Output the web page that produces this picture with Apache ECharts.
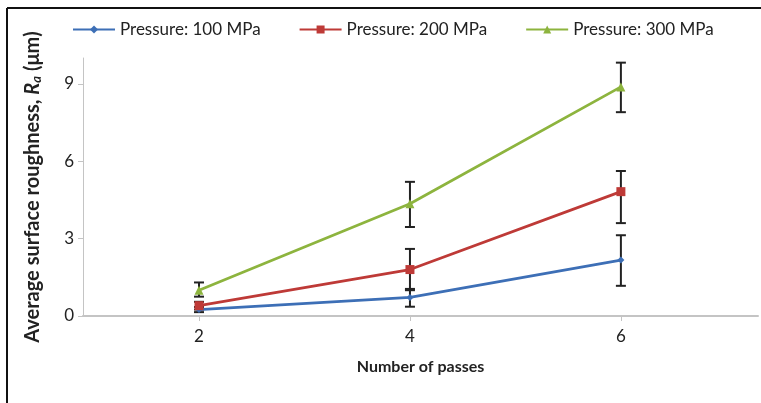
<!DOCTYPE html>
<html><head><meta charset="utf-8">
<script src="https://cdn.jsdelivr.net/npm/echarts@6/dist/echarts.min.js"></script>
<style>html,body{margin:0;padding:0;background:#fff;overflow:hidden}#c{width:761px;height:403px}</style>
</head><body><div id="c"></div>
<script>
const passes = [2, 4, 6];
const xTicks = [2, 4, 6];
const yTicks = [0, 3, 6, 9];
const names = ['Pressure: 100 MPa', 'Pressure: 200 MPa', 'Pressure: 300 MPa'];
const p100 = [0.25, 0.72, 2.17];
const p100Lo = [0.15, 0.36, 1.17];
const p100Hi = [0.35, 1.05, 3.13];
const p200 = [0.40, 1.80, 4.82];
const p200Lo = [0.25, 1.00, 3.60];
const p200Hi = [0.55, 2.60, 5.62];
const p300 = [1.00, 4.35, 8.88];
const p300Lo = [0.75, 3.45, 7.90];
const p300Hi = [1.30, 5.20, 9.82];

const colors = ['#3d6fb6', '#be3a37', '#8db43e'];
const symbols = ['diamond', 'rect', 'triangle'];
const symSizes = [7, 9, 9];
const vals = [p100, p200, p300];
const los = [p100Lo, p200Lo, p300Lo];
const his = [p100Hi, p200Hi, p300Hi];
const font = 'Lato, "Open Sans", sans-serif';

const chart = echarts.init(document.getElementById('c'));
const series = [];
vals.forEach((v, k) => {
  series.push({
    name: names[k], type: 'line', z: 3,
    data: passes.map((x, i) => [x, v[i]]),
    symbol: symbols[k], symbolSize: symSizes[k],
    lineStyle: { color: colors[k], width: 2.8 },
    itemStyle: { color: colors[k] }
  });
  series.push({
    type: 'custom', z: 2, silent: true,
    data: passes.map((x, i) => [x, los[k][i], his[k][i]]),
    renderItem: function (params, api) {
      const lo = api.coord([api.value(0), api.value(1)]);
      const hi = api.coord([api.value(0), api.value(2)]);
      const w = 5;
      const st = { stroke: '#222', lineWidth: 2 };
      return { type: 'group', children: [
        { type: 'line', shape: { x1: lo[0], y1: lo[1], x2: hi[0], y2: hi[1] }, style: st },
        { type: 'line', shape: { x1: lo[0] - w, y1: lo[1], x2: lo[0] + w, y2: lo[1] }, style: st },
        { type: 'line', shape: { x1: hi[0] - w, y1: hi[1], x2: hi[0] + w, y2: hi[1] }, style: st }
      ] };
    }
  });
});

chart.setOption({
  animation: false,
  backgroundColor: '#fff',
  textStyle: { fontFamily: font },
  graphic: [
    { type: 'line', shape: { x1: 7, y1: 8, x2: 761, y2: 8 }, style: { stroke: '#111', lineWidth: 2 }, z: 0 },
    { type: 'line', shape: { x1: 7, y1: 8, x2: 7, y2: 403 }, style: { stroke: '#111', lineWidth: 2 }, z: 0 }
  ],
  legend: {
    left: 72, top: 21, padding: 0, itemWidth: 42, itemHeight: 10, itemGap: 38,
    textStyle: { fontFamily: font, fontSize: 17, color: '#222' },
    data: names
  },
  grid: { left: 83, right: 3, top: 58, bottom: 87 },
  xAxis: {
    type: 'value', min: 0.9, max: 7.3,
    name: 'Number of passes', nameLocation: 'middle', nameGap: 43,
    nameTextStyle: { fontFamily: font, fontSize: 16, fontWeight: 'bold', color: '#222' },
    axisLine: { lineStyle: { color: '#c4c4c4', width: 2 } },
    axisTick: { show: true, customValues: xTicks, length: 5, lineStyle: { color: '#c4c4c4' } },
    axisLabel: { customValues: xTicks, fontSize: 17, color: '#222', margin: 12 },
    splitLine: { show: false }
  },
  yAxis: {
    type: 'value', min: 0, max: 10,
    name: 'Average surface roughness, {i|R}{s|a} (μm)',
    nameLocation: 'middle', nameGap: 40, nameRotate: 90,
    nameTextStyle: { fontFamily: font, fontSize: 20, fontWeight: 'bold', color: '#222',
      rich: {
        i: { fontFamily: font, fontSize: 20, fontWeight: 'bold', fontStyle: 'italic', color: '#222' },
        s: { fontFamily: font, fontSize: 13, fontWeight: 'bold', fontStyle: 'italic', color: '#222', verticalAlign: 'bottom', padding: [8, 0, 0, 0] }
      } },
    axisLine: { show: true, lineStyle: { color: '#c4c4c4', width: 1 } },
    axisTick: { show: true, customValues: yTicks, length: 5, lineStyle: { color: '#c4c4c4' } },
    axisLabel: { customValues: yTicks, fontSize: 17, color: '#222', margin: 9 },
    splitLine: { show: false }
  },
  series: series
});
</script></body></html>
